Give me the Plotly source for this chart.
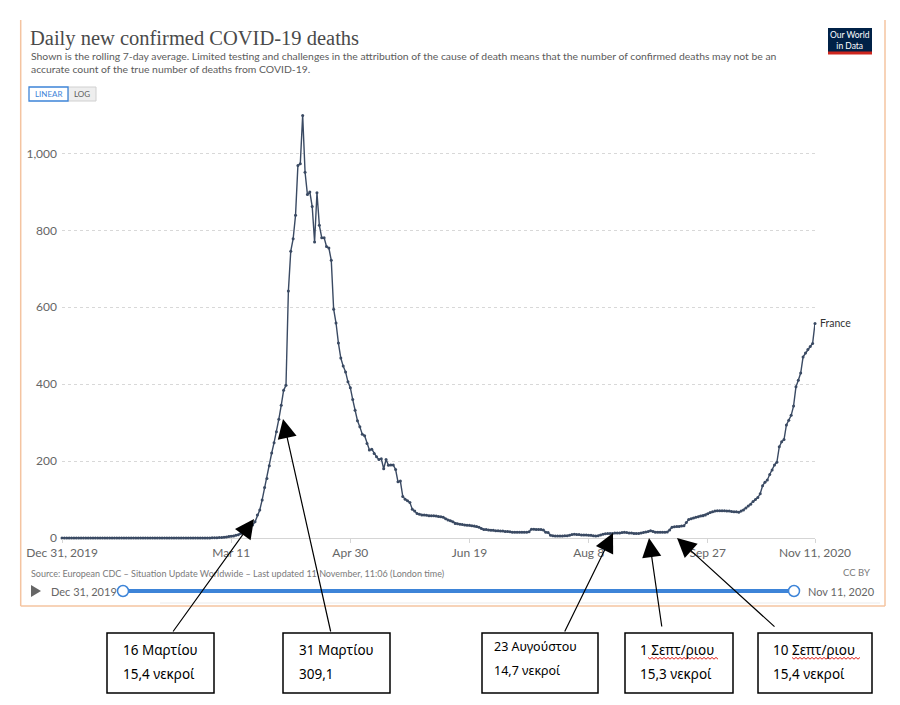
import pandas as pd
import plotly.graph_objects as go

# ---------------- data (7-day rolling average of daily confirmed deaths, France) ----------------
dec_2019 = [0]
jan_2020 = [0, 0, 0, 0, 0, 0, 0, 0, 0, 0, 0, 0, 0, 0, 0, 0, 0, 0, 0, 0, 0, 0, 0, 0, 0, 0, 0, 0, 0, 0, 0]
feb_2020 = [0, 0, 0, 0, 0, 0, 0, 0, 0, 0, 0, 0, 0, 0,
            0.14, 0.14, 0.14, 0.14, 0.14, 0.14, 0.14, 0, 0, 0, 0, 0.14, 0.14, 0.14, 0.29]
mar_2020 = [0.29, 0.29, 0.43, 0.57, 0.86, 1.0, 1.43, 2.0, 2.7, 3.6, 4.3, 5.4, 7.0, 8.6, 11.4, 15.4,
            19.0, 23.4, 28.3, 34, 42, 60, 73, 99, 131, 155, 188, 221, 248, 276, 309.1]
apr_2020 = [345, 384, 397, 642, 746, 778, 839, 969, 973, 1099, 951, 893, 900, 862, 770, 898,
            813, 781, 781, 758, 754, 722, 595, 559, 507, 468, 447, 432, 406, 391]
may_2020 = [360, 332, 305, 289, 270, 266, 246, 229, 231, 220, 211, 204, 206, 180, 204, 189,
            190, 190, 178, 146, 148, 108, 101, 97, 92, 75, 70, 64, 62, 60, 60]
jun_2020 = [59, 58, 58, 58, 57, 56, 55, 54, 50, 47, 45, 42, 38, 37, 36, 35, 34, 33, 33, 32,
            31, 30, 28, 25, 22, 22, 21, 20, 20, 19]
jul_2020 = [19, 18, 18, 17, 17, 16, 15, 15, 15, 15, 15, 15, 15, 16, 23, 23, 22, 22, 22, 21,
            15, 14, 7, 6, 5, 5, 5, 5, 6, 6, 7]
aug_2020 = [9, 10, 9, 9, 8, 8, 8, 7, 7, 6, 5, 6, 8, 10, 11, 12, 12, 12, 13, 13, 13, 14, 14.7,
            14, 13, 13, 12, 12, 12, 13, 14]
sep_2020 = [15.3, 17, 19, 17, 15, 15, 15, 15, 15, 15.4, 21, 28, 29, 30, 30, 31, 32, 40, 48, 50,
            52, 54, 55, 57, 58, 60, 63, 66, 68, 70]
oct_2020 = [71, 71, 71, 71, 70, 70, 69, 68, 68, 67, 70, 73, 78, 83, 88, 95, 100, 105, 115, 136,
            145, 151, 165, 177, 190, 197, 237, 250, 256, 294, 306]
nov_2020 = [319, 343, 393, 410, 429, 471, 481, 490, 498, 506, 558]

start_date = "2019-12-31"
end_date = "2020-11-11"
country = "France"

tick_dates = ["2019-12-31", "2020-03-11", "2020-04-30", "2020-06-19", "2020-08-08", "2020-09-27", "2020-11-11"]
tick_labels = ["Dec 31, 2019", "Mar 11", "Apr 30", "Jun 19", "Aug 8", "Sep 27", "Nov 11, 2020"]
y_ticks = [0, 200, 400, 600, 800, 1000]

box_line1 = ["16 Μαρτίου", "31 Μαρτίου", "23 Αυγούστου", "1 Σεπτ/ριου", "10 Σεπτ/ριου"]
box_line2 = ["15,4 νεκροί", "309,1", "14,7 νεκροί", "15,3 νεκροί", "15,4 νεκροί"]

title_text = "Daily new confirmed COVID-19 deaths"
subtitle_1 = ("Shown is the rolling 7-day average. Limited testing and challenges in the attribution of the cause "
              "of death means that the number of confirmed deaths may not be an")
subtitle_2 = "accurate count of the true number of deaths from COVID-19."
source_text = ("Source: European CDC – Situation Update Worldwide – Last updated 11 November, 11:06 (London time)")

values = (dec_2019 + jan_2020 + feb_2020 + mar_2020 + apr_2020 + may_2020 + jun_2020 +
          jul_2020 + aug_2020 + sep_2020 + oct_2020 + nov_2020)
dates = pd.date_range(start_date, end_date, freq="D")

# ---------------- layout geometry (pixels) ----------------
W, H = 900, 705
L, R, T, B = 62, 815, 115, 538


def px(x):
    return (x - L) / (R - L)


def py(y):
    return (B - y) / (B - T)


LINE_COL = "#3a4a63"
GREY = "#5b5b5b"
AXIS_GREY = "#666666"
OWID_BLUE = "#3d84d8"
FRAME = "#f4c4a1"

fig = go.Figure()
fig.add_trace(go.Scatter(
    x=dates, y=values, mode="lines+markers",
    line=dict(color=LINE_COL, width=1.4),
    marker=dict(color=LINE_COL, size=3),
    cliponaxis=False, showlegend=False, hoverinfo="skip"))

shapes = []
annotations = []

# OWID frame
shapes += [
    dict(type="line", xref="paper", yref="paper", x0=px(20.7), x1=px(20.7), y0=py(20), y1=py(606),
         line=dict(color=FRAME, width=1.5)),
    dict(type="line", xref="paper", yref="paper", x0=px(885), x1=px(885), y0=py(20), y1=py(606),
         line=dict(color=FRAME, width=1.5)),
    dict(type="line", xref="paper", yref="paper", x0=px(20.7), x1=px(885), y0=py(606), y1=py(606),
         line=dict(color=FRAME, width=1.5)),
    dict(type="line", xref="paper", yref="paper", x0=px(160), x1=px(880), y0=py(603), y1=py(603),
         line=dict(color="#ebebeb", width=1)),
]

# Title / subtitle
annotations += [
    dict(text=title_text, x=px(28), y=py(38), xref="paper", yref="paper", xanchor="left", yanchor="middle",
         showarrow=False, font=dict(family="Liberation Serif", size=20.5, color="#4a4a4a")),
    dict(text=subtitle_1, x=px(29), y=py(56), xref="paper", yref="paper", xanchor="left", yanchor="middle",
         showarrow=False, font=dict(family="Lato", size=10.4, color=GREY)),
    dict(text=subtitle_2, x=px(29), y=py(68.5), xref="paper", yref="paper", xanchor="left", yanchor="middle",
         showarrow=False, font=dict(family="Lato", size=10.4, color=GREY)),
]

# Our World in Data logo
shapes += [
    dict(type="rect", xref="paper", yref="paper", x0=px(828), x1=px(872), y0=py(28), y1=py(52),
         fillcolor="#002147", line=dict(width=0)),
    dict(type="rect", xref="paper", yref="paper", x0=px(828), x1=px(872), y0=py(51.5), y1=py(54.5),
         fillcolor="#ce261e", line=dict(width=0)),
]
annotations.append(dict(text="Our World<br>in Data", x=px(850), y=py(40), xref="paper", yref="paper",
                        xanchor="center", yanchor="middle", showarrow=False, align="center",
                        font=dict(family="Lato", size=8.5, color="white")))

# LINEAR / LOG toggle
shapes += [
    dict(type="rect", xref="paper", yref="paper", x0=px(68), x1=px(96), y0=py(87), y1=py(101),
         fillcolor="#eeeeee", line=dict(color="#d0d0d0", width=1)),
    dict(type="rect", xref="paper", yref="paper", x0=px(29), x1=px(68), y0=py(87), y1=py(101),
         fillcolor="white", line=dict(color=OWID_BLUE, width=1.3)),
]
annotations += [
    dict(text="LINEAR", x=px(48.5), y=py(94), xref="paper", yref="paper", showarrow=False,
         xanchor="center", yanchor="middle", font=dict(family="Lato", size=8, color=OWID_BLUE)),
    dict(text="LOG", x=px(82), y=py(94), xref="paper", yref="paper", showarrow=False,
         xanchor="center", yanchor="middle", font=dict(family="Lato", size=8, color=GREY)),
]

# Series label
annotations.append(dict(text=country, x=px(818), y=py(323), xref="paper", yref="paper", xanchor="left",
                        yanchor="middle", showarrow=False, font=dict(family="Lato", size=10.5, color="#333")))

# Source / licence
annotations += [
    dict(text=source_text, x=px(29), y=py(573), xref="paper", yref="paper", xanchor="left", yanchor="middle",
         showarrow=False, font=dict(family="Lato", size=9, color="#7a7a7a")),
    dict(text="CC BY", x=px(872), y=py(572), xref="paper", yref="paper", xanchor="right", yanchor="middle",
         showarrow=False, font=dict(family="Lato", size=9.5, color="#7a7a7a")),
]

# Timeline
shapes += [
    dict(type="path", xref="paper", yref="paper",
         path=f"M {px(31)},{py(585)} L {px(41)},{py(591)} L {px(31)},{py(597)} Z",
         fillcolor="#666", line=dict(width=0)),
    dict(type="line", xref="paper", yref="paper", x0=px(123), x1=px(794), y0=py(591), y1=py(591),
         line=dict(color=OWID_BLUE, width=4)),
]
for cx in (123, 794):
    shapes.append(dict(type="circle", xref="paper", yref="paper", xsizemode="pixel", ysizemode="pixel",
                       xanchor=px(cx), yanchor=py(591), x0=-5.5, x1=5.5, y0=-5.5, y1=5.5,
                       fillcolor="white", line=dict(color=OWID_BLUE, width=1.5)))
annotations += [
    dict(text="Dec 31, 2019", x=px(49), y=py(591), xref="paper", yref="paper", xanchor="left", yanchor="middle",
         showarrow=False, font=dict(family="Lato", size=11, color="#666")),
    dict(text="Nov 11, 2020", x=px(806), y=py(591), xref="paper", yref="paper", xanchor="left", yanchor="middle",
         showarrow=False, font=dict(family="Lato", size=11, color="#666")),
]

# Annotation boxes (pixel geometry)
box_x = [(107, 214), (283, 390), (482, 598), (625, 733), (758, 872)]
text_x = [121, 297, 492, 638, 771]
text_y = [(650, 674), (650, 674), (646, 670), (650, 674), (650, 674)]
text_size = [13.5, 13.5, 12.5, 13.5, 13.5]
for (x0, x1), tx, (ty1, ty2), fs, l1, l2 in zip(box_x, text_x, text_y, text_size, box_line1, box_line2):
    shapes.append(dict(type="rect", xref="paper", yref="paper", x0=px(x0), x1=px(x1), y0=py(633), y1=py(693),
                       fillcolor="white", line=dict(color="black", width=1.5)))
    for t, yy in ((l1, ty1), (l2, ty2)):
        annotations.append(dict(text=t, x=px(tx), y=py(yy), xref="paper", yref="paper", xanchor="left",
                                yanchor="middle", showarrow=False,
                                font=dict(family="Noto Sans", size=fs, color="black")))

# red spell-check wavy underline
for ux0, ux1 in ((648, 718), (792, 860)):
    pts = []
    xx = ux0
    k = 0
    while xx <= ux1:
        pts.append(f"{px(xx)},{py(658 + (1.2 if k % 2 else -0.6))}")
        xx += 2
        k += 1
    shapes.append(dict(type="path", xref="paper", yref="paper", path="M " + " L ".join(pts),
                       line=dict(color="#e0201c", width=1)))

# Arrows: (tip_x, tip_y, tail_x, tail_y) in pixels
arrows = [(254, 519, 172, 633), (283, 419, 331, 633), (613, 533, 564, 633),
          (649, 538, 662, 628), (677, 538, 776, 628)]
for tx, ty, sx, sy in arrows:
    annotations.append(dict(text="", x=px(tx), y=py(ty), xref="paper", yref="paper",
                            ax=sx - tx, ay=sy - ty, axref="pixel", ayref="pixel",
                            showarrow=True, arrowhead=2, arrowsize=3.2, arrowwidth=1.2,
                            arrowcolor="black", standoff=0, startstandoff=0))

fig.update_layout(
    width=W, height=H,
    margin=dict(l=L, r=W - R, t=T, b=H - B, autoexpand=False),
    paper_bgcolor="white", plot_bgcolor="white",
    shapes=shapes, annotations=annotations,
    xaxis=dict(type="date", range=[start_date, end_date], tickvals=tick_dates, ticktext=tick_labels,
               showgrid=False, zeroline=False, showline=False, ticks="outside", ticklen=4,
               tickcolor="#d5d5d5", tickfont=dict(family="Lato", size=12, color=AXIS_GREY), automargin=False),
    yaxis=dict(range=[0, 1100], tickvals=y_ticks, tickformat=",", showgrid=True, gridcolor="#d8d8d8",
               griddash="dot", gridwidth=1, zeroline=True, zerolinecolor="#d5d5d5", zerolinewidth=1.2,
               showline=False, ticks="", ticklabelstandoff=4,
               tickfont=dict(family="Lato", size=12, color=AXIS_GREY), automargin=False),
    font=dict(family="Lato"),
)

fig.write_html("out.html", config={"displayModeBar": False},
               post_script="document.body.style.margin='0';document.body.style.overflow='hidden';")
